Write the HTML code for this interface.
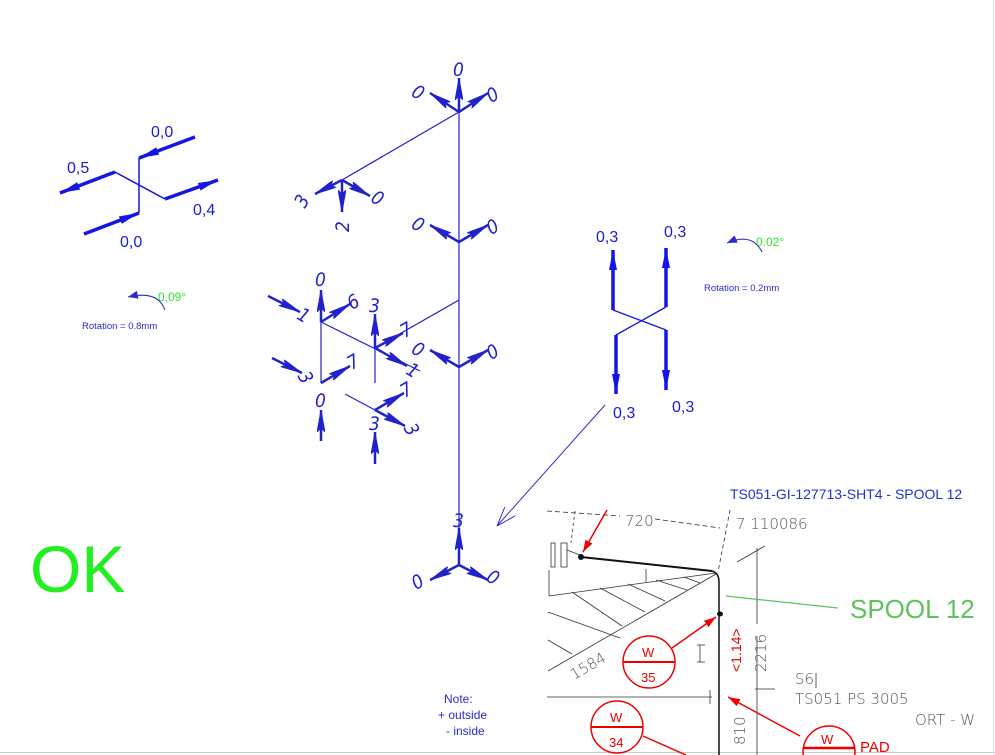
<!DOCTYPE html>
<html><head><meta charset="utf-8"><style>
html,body{margin:0;padding:0;background:#fff;}
svg{display:block;font-family:"Liberation Sans",sans-serif;}
</style></head><body>
<svg width="995" height="755" viewBox="0 0 995 755" xmlns="http://www.w3.org/2000/svg">
<defs>
<marker id="ah" viewBox="0 0 20 8" refX="20" refY="4" markerWidth="20" markerHeight="8" markerUnits="userSpaceOnUse" orient="auto"><path d="M0,0 L20,4 L0,8 z" fill="#1414e6"/></marker>
<marker id="ah2" viewBox="0 0 22 8" refX="22" refY="4" markerWidth="22" markerHeight="8" markerUnits="userSpaceOnUse" orient="auto"><path d="M0,0 L22,4 L0,8 L4,4 z" fill="#2222cc" stroke="#2222cc" stroke-width="0.8"/></marker>
<marker id="ra" viewBox="0 0 12 8" refX="12" refY="4" markerWidth="12" markerHeight="8" markerUnits="userSpaceOnUse" orient="auto"><path d="M0,0 L12,4 L0,8 z" fill="#e00"/></marker>
<marker id="open" viewBox="0 0 20 14" refX="20" refY="7" markerWidth="20" markerHeight="14" markerUnits="userSpaceOnUse" orient="auto"><path d="M0,0 L20,7 L0,14" fill="none" stroke="#3030d0" stroke-width="1"/></marker>
<marker id="sm" viewBox="0 0 10 8" refX="10" refY="4" markerWidth="10" markerHeight="8" markerUnits="userSpaceOnUse" orient="auto"><path d="M0,0 L10,4 L0,8 z" fill="#2a2ad0"/></marker>
</defs>

<!-- border -->
<line x1="0" y1="752.5" x2="995" y2="752.5" stroke="#c8c8e0" stroke-width="1"/>
<line x1="993.5" y1="0" x2="993.5" y2="755" stroke="#e0e0ee" stroke-width="1"/>

<!-- Left top cross -->
<g stroke="#1414e6" fill="none">
<line x1="139" y1="158" x2="139" y2="213" stroke-width="1.5"/>
<line x1="115" y1="172" x2="165" y2="199" stroke-width="1.5"/>
<line x1="115" y1="172" x2="60" y2="193" stroke-width="3.5" marker-end="url(#ah)"/>
<line x1="195" y1="137" x2="139" y2="158" stroke-width="3.5" marker-end="url(#ah)"/>
<line x1="84" y1="234" x2="139" y2="213" stroke-width="3.5" marker-end="url(#ah)"/>
<line x1="165" y1="199" x2="218" y2="180" stroke-width="3.5" marker-end="url(#ah)"/>
</g>
<g fill="#1a1ad0" font-size="16">
<text x="151" y="137">0,0</text>
<text x="67" y="173">0,5</text>
<text x="193" y="215">0,4</text>
<text x="120" y="247">0,0</text>
</g>
<path d="M165,310 Q158,290 128,297" stroke="#2a2ab0" fill="none" stroke-width="1" marker-end="url(#sm)"/>
<text x="158" y="301" fill="#2ee62e" font-size="12">0,09°</text>
<text x="82" y="329" fill="#2a2ad0" font-size="9.5">Rotation = 0.8mm</text>

<!-- Right X -->
<g stroke="#1414e6" fill="none">
<line x1="613" y1="310" x2="666" y2="330" stroke-width="1.3"/>
<line x1="666" y1="307" x2="616" y2="335" stroke-width="1.3"/>
<line x1="613" y1="310" x2="613" y2="250" stroke-width="3.5" marker-end="url(#ah)"/>
<line x1="666" y1="307" x2="666" y2="248" stroke-width="3.5" marker-end="url(#ah)"/>
<line x1="616" y1="335" x2="616" y2="394" stroke-width="3.5" marker-end="url(#ah)"/>
<line x1="666" y1="330" x2="666" y2="390" stroke-width="3.5" marker-end="url(#ah)"/>
</g>
<g fill="#1a1ad0" font-size="16">
<text x="596" y="242">0,3</text>
<text x="664" y="237">0,3</text>
<text x="613" y="418">0,3</text>
<text x="672" y="412">0,3</text>
</g>
<path d="M762,252 Q752,232 727,243" stroke="#2a2ab0" fill="none" stroke-width="1" marker-end="url(#sm)"/>
<text x="756" y="246" fill="#2ee62e" font-size="12">0.02°</text>
<text x="704" y="291" fill="#2a2ad0" font-size="9.5">Rotation = 0.2mm</text>
<line x1="605" y1="405" x2="497" y2="526" stroke="#3030d0" stroke-width="1" marker-end="url(#open)"/>

<!-- central structure -->
<g stroke="#2222cc" fill="none" stroke-width="1.2">
<line x1="459" y1="112" x2="459" y2="565"/>
<line x1="459" y1="112" x2="342" y2="180"/>
<line x1="459" y1="300" x2="375" y2="348"/>
<line x1="321" y1="322" x2="420" y2="371"/>
<line x1="321" y1="322" x2="321" y2="383"/>
<line x1="375" y1="348" x2="375" y2="383"/>
<line x1="345" y1="394" x2="375" y2="410"/>
</g>
<g stroke="#2222cc" fill="none" stroke-width="2.5">
<!-- top node -->
<line x1="459" y1="112" x2="459" y2="78" marker-end="url(#ah2)"/>
<line x1="459" y1="112" x2="430" y2="93" marker-end="url(#ah2)"/>
<line x1="459" y1="112" x2="488" y2="93" marker-end="url(#ah2)"/>
<!-- node 342,180 -->
<line x1="342" y1="180" x2="315" y2="194" marker-end="url(#ah2)"/>
<line x1="342" y1="180" x2="342" y2="212" marker-end="url(#ah2)"/>
<line x1="342" y1="180" x2="370" y2="196" marker-end="url(#ah2)"/>
<!-- node 459,242 -->
<line x1="459" y1="242" x2="430" y2="225" marker-end="url(#ah2)"/>
<line x1="459" y1="242" x2="488" y2="225" marker-end="url(#ah2)"/>
<!-- node 459,367 -->
<line x1="459" y1="367" x2="430" y2="350" marker-end="url(#ah2)"/>
<line x1="459" y1="367" x2="488" y2="350" marker-end="url(#ah2)"/>
<!-- bottom node -->
<line x1="459" y1="565" x2="459" y2="528" marker-end="url(#ah2)"/>
<line x1="459" y1="565" x2="430" y2="580" marker-end="url(#ah2)"/>
<line x1="459" y1="565" x2="488" y2="580" marker-end="url(#ah2)"/>
<!-- node 321,322 -->
<line x1="321" y1="322" x2="321" y2="290" marker-end="url(#ah2)"/>
<line x1="321" y1="322" x2="350" y2="304" marker-end="url(#ah2)"/>
<line x1="268" y1="296" x2="300" y2="312" marker-end="url(#ah2)"/>
<!-- node 375,348 -->
<line x1="375" y1="348" x2="375" y2="314" marker-end="url(#ah2)"/>
<line x1="375" y1="348" x2="403" y2="333" marker-end="url(#ah2)"/>
<line x1="375" y1="348" x2="407" y2="366" marker-end="url(#ah2)"/>
<!-- node 321,383 -->
<line x1="272" y1="358" x2="302" y2="373" marker-end="url(#ah2)"/>
<line x1="321" y1="383" x2="350" y2="366" marker-end="url(#ah2)"/>
<line x1="321" y1="441" x2="321" y2="410" marker-end="url(#ah2)"/>
<!-- node 375,410 -->
<line x1="375" y1="410" x2="404" y2="393" marker-end="url(#ah2)"/>
<line x1="375" y1="410" x2="405" y2="426" marker-end="url(#ah2)"/>
<line x1="375" y1="464" x2="375" y2="432" marker-end="url(#ah2)"/>
</g>
<g fill="#2222cc" font-size="19" font-family="'DejaVu Sans Condensed','Liberation Sans Narrow',sans-serif" font-style="italic">
<text x="453" y="76">0</text>
<text x="412" y="100" transform="rotate(30 420 94)">0</text>
<text x="487" y="100" transform="rotate(-30 495 94)">0</text>
<text x="296" y="206" transform="rotate(-60 303 200)">3</text>
<text x="336" y="233" transform="rotate(-90 342 226)">2</text>
<text x="372" y="206" transform="rotate(30 380 199)">0</text>
<text x="412" y="232" transform="rotate(30 420 226)">0</text>
<text x="487" y="232" transform="rotate(-30 495 226)">0</text>
<text x="412" y="357" transform="rotate(30 420 351)">0</text>
<text x="487" y="357" transform="rotate(-30 495 351)">0</text>
<text x="453" y="527">3</text>
<text x="412" y="587" transform="rotate(-30 420 581)">0</text>
<text x="487" y="585" transform="rotate(30 495 579)">0</text>
<text x="315" y="286">0</text>
<text x="298" y="322" transform="rotate(30 304 316)">1</text>
<text x="348" y="308" transform="rotate(-30 354 302)">6</text>
<text x="369" y="312">3</text>
<text x="401" y="336" transform="rotate(-30 407 330)">7</text>
<text x="407" y="377" transform="rotate(30 413 371)">1</text>
<text x="299" y="385" transform="rotate(60 306 379)">3</text>
<text x="348" y="368" transform="rotate(-30 354 362)">7</text>
<text x="315" y="407">0</text>
<text x="401" y="396" transform="rotate(-30 407 390)">7</text>
<text x="405" y="437" transform="rotate(60 412 431)">3</text>
<text x="369" y="430">3</text>
</g>

<!-- OK -->
<text x="30" y="592" fill="#22ee22" font-size="66">OK</text>

<!-- note -->
<g fill="#2a2ad0" font-size="12">
<text x="444" y="703">Note:</text>
<text x="438" y="719">+ outside</text>
<text x="446" y="735">- inside</text>
</g>

<!-- title -->
<text x="730" y="499" fill="#2233cc" font-size="14">TS051-GI-127713-SHT4 - SPOOL 12</text>

<!-- bottom right drawing -->
<g stroke="#333" fill="none" stroke-width="0.8">
<line x1="547" y1="511" x2="620" y2="516" stroke-dasharray="5,3"/>
<line x1="655" y1="519" x2="720" y2="528" stroke-dasharray="5,3"/>
<line x1="730" y1="510" x2="718" y2="572" stroke-dasharray="4,3"/>
<line x1="575" y1="511" x2="571" y2="543" stroke-dasharray="3,3"/>
<rect x="551" y="543" width="4" height="24"/>
<rect x="561" y="543" width="6" height="24"/>
<line x1="567" y1="550" x2="580" y2="555"/>
<line x1="549" y1="570" x2="549" y2="596"/>
<line x1="646" y1="569" x2="646" y2="582"/>
<line x1="549" y1="596" x2="716" y2="573"/>
<line x1="548" y1="671" x2="716" y2="574"/>
<line x1="548" y1="612" x2="620" y2="638"/>
<line x1="548" y1="640" x2="572" y2="654"/>
<line x1="572" y1="592" x2="622" y2="626"/>
<line x1="600" y1="588" x2="645" y2="612"/>
<line x1="628" y1="584" x2="665" y2="601"/>
<line x1="656" y1="580" x2="687" y2="590"/>
<line x1="684" y1="577" x2="700" y2="583"/>
<line x1="757" y1="548" x2="757" y2="624"/>
<line x1="757" y1="636" x2="757" y2="755"/>
<line x1="737" y1="562" x2="765" y2="546"/>
<line x1="547" y1="697" x2="712" y2="697"/>
<line x1="710" y1="690" x2="710" y2="704"/>
<line x1="697" y1="645" x2="705" y2="645"/>
<line x1="697" y1="662" x2="705" y2="662"/>
<line x1="700" y1="645" x2="700" y2="662"/>
<line x1="755" y1="689" x2="775" y2="689"/>
<line x1="816" y1="673" x2="816" y2="688"/>
</g>
<path d="M581,557 L712,571" stroke="#111" stroke-width="2" fill="none"/>
<path d="M712,571 Q719,573 719,582 L719,755" stroke="#111" stroke-width="1.5" fill="none"/>
<circle cx="581" cy="557" r="3" fill="#111"/>
<ellipse cx="720" cy="614" rx="3" ry="2.5" fill="#111"/>
<g fill="#555" font-size="15" font-family="'DejaVu Sans','Liberation Sans',sans-serif" font-weight="300">
<text x="625" y="526">720</text>
<text x="736" y="529">7 110086</text>
<text x="574" y="680" transform="rotate(-30 574 680)">1584</text>
<text x="766" y="672" transform="rotate(-90 766 672)">2216</text>
<text x="745" y="745" transform="rotate(-90 745 745)">810</text>
<text x="795" y="684">S6</text>
<text x="795" y="704">TS051 PS 3005</text>
<text x="915" y="725">ORT - W</text>
</g>
<line x1="726" y1="596" x2="838" y2="608" stroke="#5cc35c" stroke-width="1.2"/>
<text x="850" y="618" fill="#5cc35c" font-size="26">SPOOL 12</text>
<text x="741" y="672" transform="rotate(-90 741 672)" fill="#e00" font-size="14">&lt;1.14&gt;</text>
<g stroke="#e00" fill="none" stroke-width="1.5">
<line x1="607" y1="510" x2="583" y2="552" marker-end="url(#ra)"/>
<line x1="672" y1="648" x2="716" y2="617" marker-end="url(#ra)"/>
<line x1="800" y1="736" x2="728" y2="697" marker-end="url(#ra)"/>
<line x1="643" y1="736" x2="686" y2="755"/>
<circle cx="649" cy="662" r="26"/>
<line x1="623" y1="662" x2="675" y2="662" stroke-width="2"/>
<circle cx="617" cy="727" r="26"/>
<line x1="591" y1="727" x2="643" y2="727" stroke-width="2"/>
<circle cx="829" cy="752" r="26"/>
<line x1="803" y1="748" x2="855" y2="748" stroke-width="2.5"/>
</g>
<g fill="#e00" font-size="13">
<text x="642" y="657">W</text>
<text x="641" y="682">35</text>
<text x="610" y="722">W</text>
<text x="609" y="747">34</text>
<text x="821" y="744">W</text>
<text x="860" y="752" font-size="15">PAD</text>
</g>
</svg>
</body></html>
